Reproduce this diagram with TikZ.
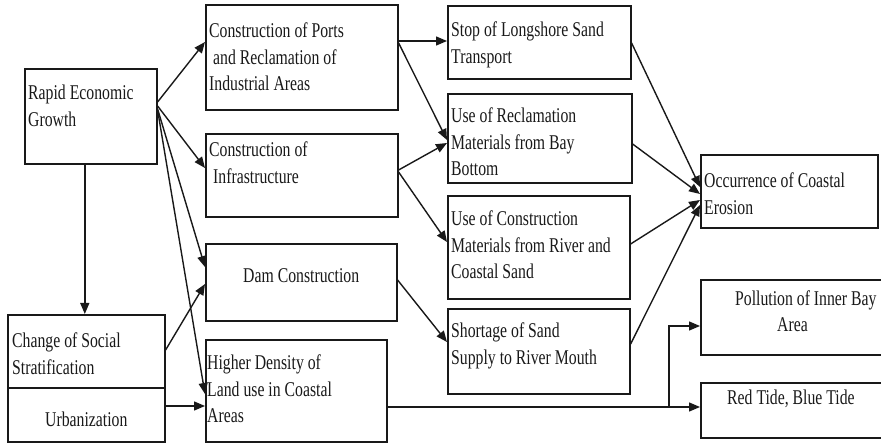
\documentclass[tikz,border=0pt]{standalone}
\usepackage{fontspec}
\setmainfont{Liberation Serif}[FakeStretch=0.75]
\usetikzlibrary{arrows.meta,calc}
\begin{document}
\begin{tikzpicture}[x=1pt,y=-1pt,
  box/.style={draw=black!90,line width=1.6pt,rectangle,inner sep=0pt,anchor=north west},
  txt/.style={inner sep=0pt,align=left,anchor=base west,text=black!90,font=\fontsize{21}{26.5}\selectfont},
  arr/.style={draw=black!90,line width=1.4pt,-{Triangle[length=11pt,width=9pt]}},
  ln/.style={draw=black!90,line width=1.4pt}]
\useasboundingbox (0,0) rectangle (881,443);
% boxes
\node[box,minimum width=132pt,minimum height=95pt] (reg) at (24,68) {};
\node[box,minimum width=192pt,minimum height=105pt] (ports) at (205,4) {};
\node[box,minimum width=192pt,minimum height=83pt] (infra) at (205,133) {};
\node[box,minimum width=183pt,minimum height=73pt] (stop) at (447,5) {};
\node[box,minimum width=184pt,minimum height=89pt] (recl) at (447,93) {};
\node[box,minimum width=182pt,minimum height=103pt] (cons) at (447,195) {};
\node[box,minimum width=182pt,minimum height=85pt] (short) at (447,308) {};
\node[box,minimum width=177pt,minimum height=73pt] (occ) at (700,154) {};
\node[box,minimum width=185pt,minimum height=75pt] (poll) at (700,279) {};
\node[box,minimum width=185pt,minimum height=55pt] (red) at (700,382) {};
\node[box,minimum width=191pt,minimum height=77pt] (dam) at (205,243) {};
\node[box,minimum width=181pt,minimum height=102pt] (dens) at (205,339) {};
\node[box,minimum width=157pt,minimum height=73pt] (chg) at (7,314) {};
\node[box,minimum width=157pt,minimum height=54pt] (urb) at (7,387) {};
% texts (anchored at the baseline of their last line)
\node[txt] (regT) at (28,126.5) {Rapid Economic\\Growth};
\node[txt] (portsT) at (209,91) {Construction of Ports\\\hspace*{4pt}and Reclamation of\\Industrial Areas};
\node[txt] (infraT) at (209,183.5) {Construction of\\\hspace*{4pt}Infrastructure};
\node[txt] (stopT) at (451,63.5) {Stop of Longshore Sand\\Transport};
\node[txt] (reclT) at (451,176) {Use of Reclamation\\Materials from Bay\\Bottom};
\node[txt] (consT) at (451,279) {Use of Construction\\Materials from River and\\Coastal Sand};
\node[txt] (shortT) at (451,364.5) {Shortage of Sand\\Supply to River Mouth};
\node[txt] (occT) at (704,214.5) {Occurrence of Coastal\\Erosion};
\node[txt] (pollT) at (735,332) {Pollution of Inner Bay\\\hspace*{42pt}Area};
\node[txt] (redT) at (727,405) {Red Tide, Blue Tide};
\node[txt] (damT) at (243,283) {Dam Construction};
\node[txt] (chgT) at (12,374.5) {Change of Social\\Stratification};
\node[txt] (urbT) at (45,427) {Urbanization};
\node[txt] (densT) at (207,423) {Higher Density of\\Land use in Coastal\\Areas};
% connectors
\draw[arr] ([yshift=-34]reg.north east) -- ([yshift=-38]ports.north west);
\draw[arr] ([yshift=-38]reg.north east) -- ([yshift=-35]infra.north west);
\draw[arr] ([yshift=-41]reg.north east) -- ([yshift=-24]dam.north west);
\draw[arr] ([yshift=-42]reg.north east) -- ([yshift=-55]dens.north west);
\draw[arr] ([xshift=-6]reg.south) -- ([xshift=-6]reg.south |- chg.north);
\draw[arr] ([yshift=-36]chg.north east) -- ([yshift=-41]dam.north west);
\draw[arr] ([yshift=-19]urb.north east) -- ([yshift=-67]dens.north west);
\draw[arr] ([yshift=-37]ports.north east) -- ([yshift=-36]stop.north west);
\draw[arr] ([yshift=-39]ports.north east) -- ([yshift=-47]recl.north west);
\draw[arr] ([yshift=-37]infra.north east) -- ([yshift=-50]recl.north west);
\draw[arr] ([yshift=-39]infra.north east) -- ([yshift=-47]cons.north west);
\draw[arr] ([yshift=-37]dam.north east) -- ([yshift=-34]short.north west);
\draw[arr] ([yshift=-38]stop.north east) -- ([yshift=-33]occ.north west);
\draw[arr] ([yshift=-51]recl.north east) -- ([yshift=-40]occ.north west);
\draw[arr] ([yshift=-49]cons.north east) -- ([yshift=-46]occ.north west);
\draw[arr] ([yshift=-36]short.north east) -- ([yshift=-51]occ.north west);
\draw[arr] ([yshift=-68]dens.north east) -- ([yshift=-25]red.north west);
\coordinate (br) at ($([yshift=-25]red.north west)+(-31,0)$);
\draw[arr] (br) |- ([yshift=-47]poll.north west);
\end{tikzpicture}
\end{document}
